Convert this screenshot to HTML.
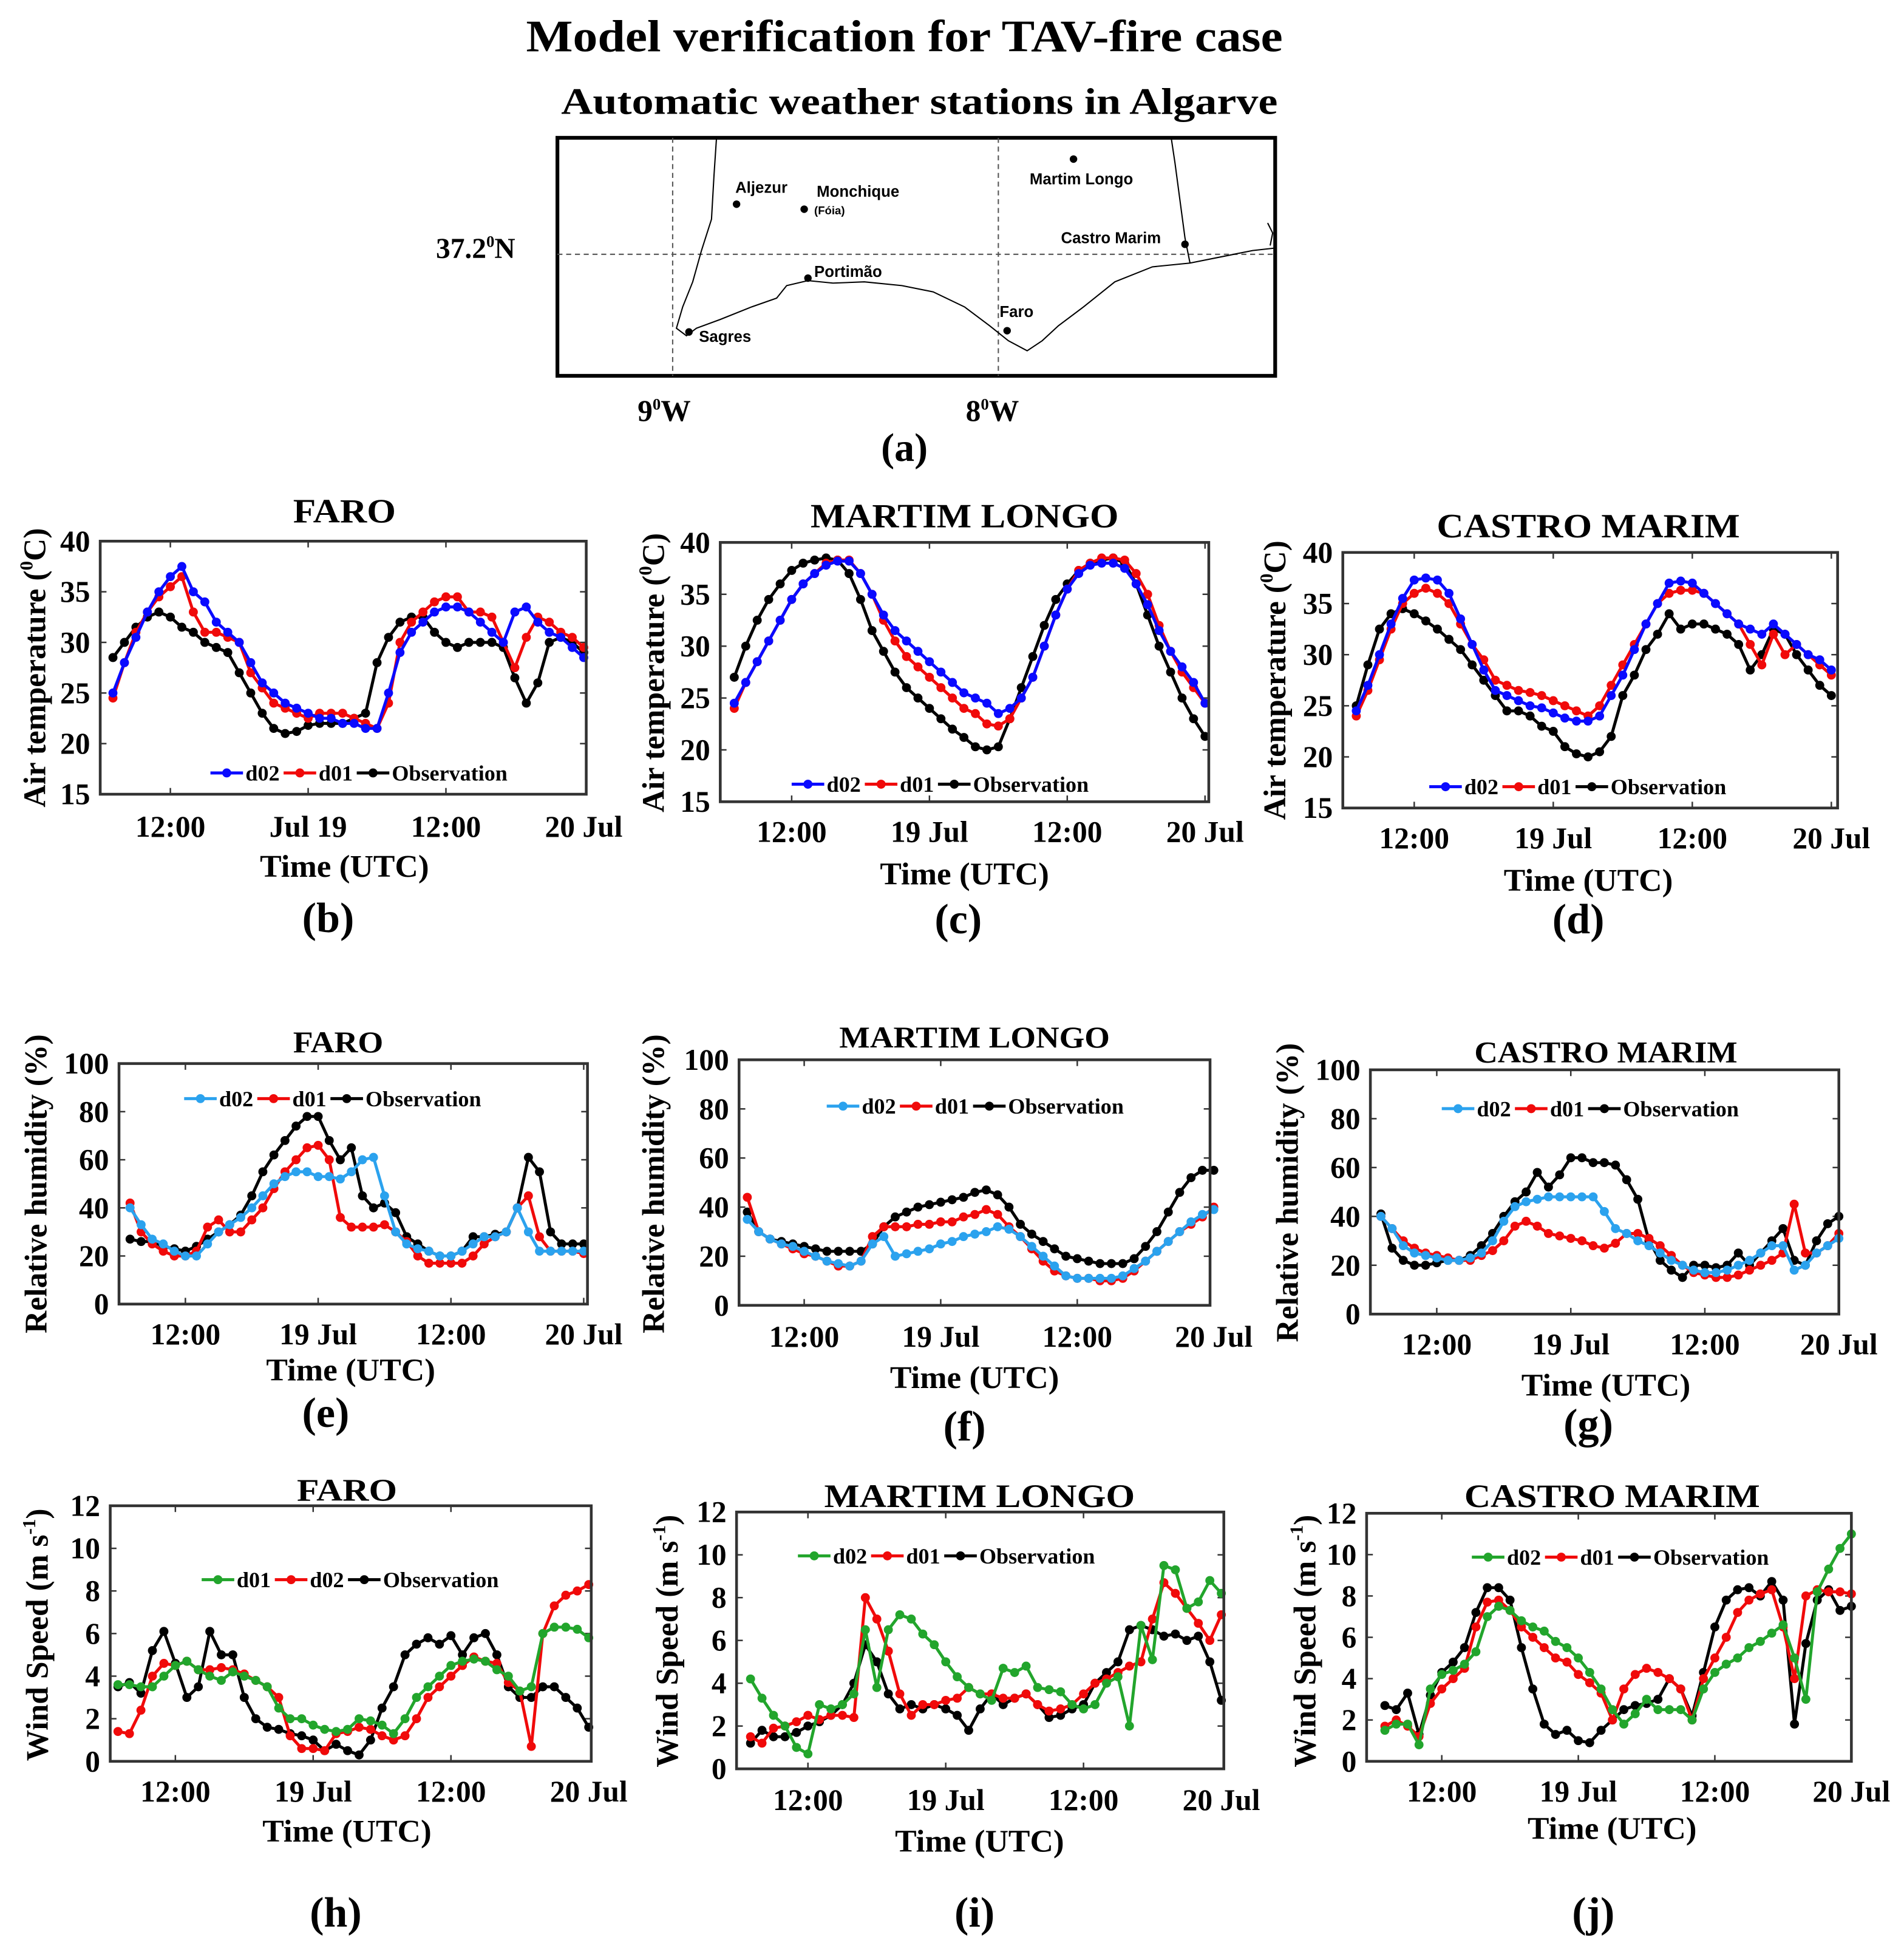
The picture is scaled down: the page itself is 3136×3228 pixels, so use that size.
<!DOCTYPE html>
<html><head><meta charset="utf-8"><style>
html,body{margin:0;padding:0;background:#fff;}
svg{display:block;}
text{font-family:"Liberation Serif",serif;font-weight:bold;fill:#000;}
.sans{font-family:"Liberation Sans",sans-serif;}
</style></head><body>
<svg id="fig" xmlns="http://www.w3.org/2000/svg" width="3136" height="3228" viewBox="0 0 1520 1564.6">
<rect x="0" y="0" width="1520" height="1565" fill="#fff"/>
<text x="420" y="41" font-size="36" textLength="604" lengthAdjust="spacingAndGlyphs">Model verification for TAV-fire case</text>
<text x="448" y="91" font-size="30" textLength="572" lengthAdjust="spacingAndGlyphs">Automatic weather stations in Algarve</text>
<g>
<rect x="445" y="110" width="573" height="190" fill="none" stroke="#000" stroke-width="3"/>
<line x1="537" y1="110" x2="537" y2="300" stroke="#555" stroke-dasharray="4,3" stroke-width="1"/>
<line x1="797" y1="110" x2="797" y2="300" stroke="#555" stroke-dasharray="4,3" stroke-width="1"/>
<line x1="445" y1="203" x2="1018" y2="203" stroke="#555" stroke-dasharray="4,3" stroke-width="1"/>
<path d="M572,110 L570,140 L568,175 L560,200 L553,225 L545,245 L540,262 L548,268 L556,262 L575,255 L600,245 L620,238 L628,228 L645,224 L665,226 L690,225 L720,228 L745,233 L770,245 L790,260 L805,272 L820,280 L832,272 L845,260 L865,245 L890,225 L920,213 L950,210 L975,205 L1000,200 L1018,198" fill="none" stroke="#000" stroke-width="1"/>
<path d="M935,110 L938,130 L942,160 L946,190 L950,210 M1012,178 L1016,186 L1014,196" fill="none" stroke="#000" stroke-width="1"/>
<g class="sans" font-size="12.5">
<circle cx="588" cy="163" r="3"/><text class="sans" x="587" y="154" font-size="12.5">Aljezur</text>
<circle cx="642" cy="167" r="3"/><text class="sans" x="652" y="157" font-size="12.5">Monchique</text><text class="sans" x="650" y="171" font-size="9">(Fóia)</text>
<circle cx="857" cy="127" r="3"/><text class="sans" x="822" y="147" font-size="12.5">Martim Longo</text>
<circle cx="946" cy="195" r="3"/><text class="sans" x="847" y="194" font-size="12.5">Castro Marim</text>
<circle cx="645" cy="222" r="3"/><text class="sans" x="650" y="221" font-size="12.5">Portimão</text>
<circle cx="804" cy="264" r="3"/><text class="sans" x="798" y="253" font-size="12.5">Faro</text>
<circle cx="550" cy="265" r="3"/><text class="sans" x="558" y="273" font-size="12.5">Sagres</text>
</g>
<text x="348" y="206" font-size="23">37.2<tspan font-size="13" dy="-9">0</tspan><tspan dy="9">N</tspan></text>
<text x="509" y="336" font-size="24">9<tspan font-size="13" dy="-9">0</tspan><tspan dy="9">W</tspan></text>
<text x="771" y="336" font-size="24">8<tspan font-size="13" dy="-9">0</tspan><tspan dy="9">W</tspan></text>
</g>
<text x="722" y="368" font-size="32" text-anchor="middle">(a)</text>
<g id="charts"></g>
</svg>
<script>
const hours=[];for(let h=7;h<=48;h++)hours.push(h);
// Temperature
const b_obs=[28.5,30,31.5,32.5,33,32.5,31.5, 31,30,29.5,29,27,25,23, 21.5,21,21.2,21.8,22,22,22, 22.5,23,28,30.5,32,32.5,32.5, 31,30,29.5,30,30,30,29.5, 26.5,24,26,30,30.5,30,29];
const b_d02=[25,28,30.5,33,35,36.5,37.5, 35,34,32,31,30,28,26, 25,24,23.5,23,22.5,22.5,22, 22,21.5,21.5,25,29,31,32, 33,33.5,33.5,33,32,31,30, 33,33.5,32,31,30.5,29.5,28.5];
const b_d01=[24.5,28,31,33,34.5,35.5,36.5, 33,31,31,30.5,30,27,25.5, 24,23.5,23,22.5,23,23,23, 22.5,22,21.5,24,30,32,33, 34,34.5,34.5,33,33,32.5,30, 27.5,30.5,32.5,32,31,30.5,29.5];
const c_obs=[27,30,32.5,34.5,36,37.3,38, 38.3,38.5,38.3,37,34.5,31.5,29.5, 27.5,26,25,24,23,22,21.2, 20.3,20,20.3,23,26,29,32, 34.5,36,37.3,38,38.3,38.5,38, 36,33,30,27.5,25,23,21.3];
const c_d02=[24.5,26.5,28.5,30.5,32.5,34.5,36, 37,37.8,38.2,38.2,37,35,33, 31.5,30.5,29.5,28.5,27.5,26.5,25.5, 25,24.5,23.5,24,25,27,30, 33,35.5,37,37.8,38,38,37.5, 36,34,31.5,29.5,28,26.5,24.5];
const c_d01=[24,26.5,28.5,30.5,32.5,34.5,36, 37,38,38.3,38.3,37,35,32.5, 30.5,29,28,27,26,25,24, 23.5,22.5,22.3,23,25,27,30, 33,35.5,37.3,38,38.5,38.5,38.3, 37,35,32,29.5,27.5,26,24.5];
const d_obs=[25,29,32.5,34,34.5,34,33.3, 32.5,31.5,30.5,29,27.5,26,24.5, 24.5,24,23,22.5,21,20.3,20, 20.5,22,26,28,30.5,32,34, 32.5,33,33,32.5,32,31,28.5, 30,32.5,32,30,28.5,27,26];
const d_d02=[24.5,27,30,33,35.5,37.3,37.5, 37.3,36,33.5,31,28.5,26.5,26, 25.5,25,24.8,24.3,23.8,23.5,23.5, 24,26,28,30.5,33,35,37, 37.2,37,36,35,34,33,32.5, 32,33,32,31,30,29.5,28.5];
const d_d01=[24,26.5,29.5,32.5,35,36,36.5, 36,35,33,31,29.5,27.5,27, 26.5,26.3,26,25.5,25,24.5,24, 25,27,29,31,33,35,36, 36.3,36.3,36,35,34,33,31, 29,32,30,31,30,29,28];
// Relative humidity
const e_obs=[27,26,26,24,23,22,24, 27,30,33,37,45,55,62, 68,74,78,78,68,60,65, 45,40,42,38,28,25,22, 20,20,22,28,28,29,30, 40,61,55,30,25,25,25];
const e_d02=[40,33,27,25,22,20,20, 25,30,33,36,40,45,50, 53,55,55,53,53,52,55, 60,61,45,30,25,23,22, 20,20,22,25,28,28,30, 40,30,22,22,22,22,22];
const e_d01=[42,30,25,22,20,20,22, 32,35,30,30,35,40,48, 55,60,65,66,60,36,32, 32,32,33,30,26,20,17, 17,17,17,20,25,28,30, 40,45,28,22,22,22,21];
const f_obs=[38,30,27,26,25,24,23, 22,22,22,22,25,32,36, 38,40,41,42,43,44,46, 47,45,40,33,29,26,23, 20,19,18,17,17,17,19, 24,30,38,46,52,55,55];
const f_d02=[35,30,27,25,24,22,20, 18,17,16,18,25,28,20, 21,22,23,25,26,28,29, 30,32,31,28,24,20,16, 12,11,11,11,11,12,15, 18,22,26,30,34,37,39];
const f_d01=[44,30,27,25,23,21,20, 18,16,16,18,28,32,32, 32,33,33,34,34,36,37, 39,37,32,28,23,18,14, 12,11,11,10,10,11,14, 18,22,26,30,33,36,40];
const g_obs=[41,27,22,20,20,21,22, 22,24,28,33,40,46,50, 58,52,57,64,64,62,62, 61,55,47,30,22,18,15, 20,20,19,20,25,20,25, 30,35,22,20,30,37,40];
const g_d02=[40,35,28,25,24,23,22, 22,23,25,30,38,44,46, 47,48,48,48,48,48,42, 35,33,30,28,25,22,20, 18,17,17,18,20,22,25, 28,28,18,20,25,28,31];
const g_d01=[40,35,30,27,25,24,23, 22,22,24,26,30,36,38, 36,33,32,31,30,28,27, 29,33,33,31,28,24,20, 17,16,15,15,16,18,20, 22,25,45,25,25,28,33];
// Wind speed
const h_obs=[3.5,3.7,3.2,5.2,6.1,4.6,3, 3.5,6.1,5,5,3,2,1.6, 1.5,1.3,1.2,1,0.5,0.8,0.5, 0.3,1,2.5,3.5,5,5.5,5.8, 5.5,5.9,5,5.8,6,5,3.5, 3,3,3.5,3.5,3,2.5,1.6];
const h_d01=[3.6,3.6,3.5,3.5,4,4.5,4.7, 4.3,4,3.8,4.2,4,3.8,3.5, 2.5,2,2,1.7,1.5,1.4,1.5, 2,1.9,1.7,1.3,2,3,3.5, 4,4.5,4.7,4.8,4.7,4.3,4, 3.3,3.5,6,6.3,6.3,6.2,5.8];
const h_d02=[1.4,1.3,2.4,4,4.6,4.5,4.7, 4.3,4.3,4.4,4.3,4.1,3.8,3.5, 3,1.2,0.6,0.6,0.5,1.3,1.4, 1.6,1.5,1.2,1,1.2,2,3, 3.5,4,4.5,4.9,4.7,4.6,3.7, 3.3,0.7,6,7.3,7.8,8,8.3];
const i_obs=[1.2,1.8,1.5,1.5,1.7,2,2.2, 2.5,3,4,5.8,5,3.5,2.8, 3,2.8,3,2.8,2.5,1.8,2.8, 3.5,3,3.3,3.5,3,2.4,2.5, 2.8,3,4,4.5,5,6.5,6.7, 6.5,6.2,6.3,6,6.2,5,3.2];
const i_d02=[4.2,3.3,2.5,2,1,0.7,3, 2.8,3,3.5,6.5,3.8,6.5,7.2, 7,6.3,5.8,5,4.3,3.8,3.5, 3.2,4.7,4.5,4.8,3.8,3.7,3.6, 3,2.8,3,4,4.3,2,6.7, 5.1,9.5,9.3,7.5,7.8,8.8,8.2];
const i_d01=[1.5,1.2,1.9,2,2.2,2.5,2.3, 2.5,2.5,2.4,8,7,5.5,3.5, 2.5,3,3,3.2,3.3,3.8,3.5, 3.5,3.3,3.3,3.5,3,2.7,2.8, 3,3.5,4,4.2,4.5,4.8,5, 7,8.7,8.2,7.5,6.8,6,7.2];
const j_obs=[2.7,2.5,3.3,1.3,3.2,4.3,4.8, 5.5,7.2,8.4,8.4,7.8,5.5,3.5, 1.8,1.3,1.5,1,0.9,1.5,2, 2.5,2.7,2.8,3,4,3.5,2.2, 4.3,6.5,7.8,8.3,8.4,8,8.7, 7.8,1.8,5.7,7.8,8.3,7.3,7.5];
const j_d02=[1.5,1.8,1.8,0.8,3.5,4.2,4.4, 4.7,5.3,7,7.5,7.3,6.8,6.5, 6.3,5.8,5.5,5,4.3,3.5,2.5, 1.8,2.3,3,2.5,2.5,2.5,2, 3.5,4.3,4.7,5,5.5,5.8,6.2, 6.6,5,3,8.2,9.3,10.3,11];
const j_d01=[1.7,2,1.7,1.2,2.8,3.5,4, 4.5,6.5,7.7,7.8,7.3,6.5,6, 5.5,5,4.8,4.2,3.8,3.3,2, 3.5,4.2,4.5,4.3,4,3.5,2, 4,5,6,7.2,7.8,8.1,8.3, 6.5,4,8,8.3,8.2,8.2,8.1];
const tempTicks=[15,20,25,30,35,40];
const rhTicks=[0,20,40,60,80,100];
const windTicks=[0,2,4,6,8,10,12];
const tickHours=[12,24,36,48];
const xLabelsA=['12:00','Jul 19','12:00','20 Jul'];
const xLabelsB=['12:00','19 Jul','12:00','20 Jul'];

const BLUE='#0a0aff',LBLUE='#2ba2ee',RED='#f00a0a',GREEN='#22a52c',BLACK='#000';
const NS='http://www.w3.org/2000/svg';
const root=document.getElementById('charts');
function mk(tag,attrs,parent){const e=document.createElementNS(NS,tag);for(const k in attrs)e.setAttribute(k,attrs[k]);(parent||root).appendChild(e);return e;}

function chart(c){
  const g=mk('g',{});
  
  
  const ymin=c.ticks[0],ymax=c.ticks[c.ticks.length-1];
  const ppH=(c.x24-c.x12)/12;
  const X=h=>c.x12+(h-12)*ppH;
  const Y=v=>c.y1-(v-ymin)/(ymax-ymin)*(c.y1-c.y0);
  c.ticks.forEach(t=>{
    const y=Y(t);
    const tl=mk('text',{x:c.x0-8,y:y+8,'font-size':24,'text-anchor':'end'},g);tl.textContent=t;
    
    
    mk('line',{x1:c.x0,y1:y,x2:c.x0+5,y2:y,stroke:'#333','stroke-width':1.2},g);
    mk('line',{x1:c.x1,y1:y,x2:c.x1-5,y2:y,stroke:'#333','stroke-width':1.2},g);
  });
  tickHours.forEach((h,i)=>{
    const x=X(h);
    if(x<c.x1-2){
      mk('line',{x1:x,y1:c.y1,x2:x,y2:c.y1-5,stroke:'#333','stroke-width':1.2},g);
      mk('line',{x1:x,y1:c.y0,x2:x,y2:c.y0+5,stroke:'#333','stroke-width':1.2},g);
    }
    const tl=mk('text',{x:x,y:c.xly,'font-size':24,'text-anchor':'middle'},g);tl.textContent=c.xl[i];
    
    
  });
  c.series.forEach(s=>{
    const sg=mk('g',{},g);
    
    
    const pts=s.data.map((v,i)=>X(hours[i])+','+Y(v)).join(' ');
    mk('polyline',{points:pts,fill:'none',stroke:s.color,'stroke-width':2.4,'stroke-linejoin':'round'},sg);
    s.data.forEach((v,i)=>{
      const p=mk('circle',{cx:X(hours[i]),cy:Y(v),r:3.6,fill:s.color},sg);
      
      
    });
  });
  mk('rect',{x:c.x0,y:c.y0,width:c.x1-c.x0,height:c.y1-c.y0,fill:'none',stroke:'#333','stroke-width':2.2},g);
  const lg=mk('g',{},g);
  
  
  let lx=c.lx;
  c.series.slice().reverse().forEach(s=>{
    mk('line',{x1:lx,y1:c.ly,x2:lx+26,y2:c.ly,stroke:s.color,'stroke-width':2.4},lg);
    mk('circle',{cx:lx+13,cy:c.ly,r:3.6,fill:s.color},lg);
    const t=mk('text',{x:lx+28,y:c.ly+6,'font-size':17.5},lg);t.textContent=s.label;
    
    
    lx+=28+(s.label.length*8.8)+4;
  });
  const tt=mk('text',{x:c.tx,y:c.ty,'font-size':c.tfs||27,'text-anchor':'middle',textLength:c.tl,lengthAdjust:'spacingAndGlyphs'},g);tt.textContent=c.title;
  
  
  const xt=mk('text',{x:c.xtx,y:c.xty,'font-size':25,'text-anchor':'middle',textLength:135,lengthAdjust:'spacingAndGlyphs'},g);xt.textContent='Time (UTC)';
  
  
  const yt=mk('text',{x:0,y:0,'font-size':25,'text-anchor':'middle',transform:`translate(${c.ytx},${c.yty}) rotate(-90)`},g);
  
  
  if(c.ylab==='wind'){yt.innerHTML='Wind Speed (m s<tspan font-size="15" dy="-10">-1</tspan><tspan dy="10">)</tspan>';}
  else if(c.ylab==='temp'){yt.innerHTML='Air temperature (<tspan font-size="15" dy="-10">0</tspan><tspan dy="10">C)</tspan>';}
  else yt.textContent='Relative humidity (%)';
  const pl=mk('text',{x:c.px,y:c.py,'font-size':34,'text-anchor':'middle'},g);pl.textContent=c.plabel;
  
  
}
chart({name:'faro-temperature-chart',title:'FARO',tl:82,x0:80,x1:468,y0:432,y1:634,x12:136,x24:246,ticks:tempTicks,xl:xLabelsA,xly:668,
 series:[{label:'Observation',color:BLACK,data:b_obs},{label:'d01',color:RED,data:b_d01},{label:'d02',color:BLUE,data:b_d02}],
 lx:168,ly:617,tx:275,ty:417,xtx:275,xty:700,ytx:36,yty:533,ylab:'temp',plabel:'(b)',px:262,py:744});
chart({name:'martim-longo-temperature-chart',title:'MARTIM LONGO',tl:246,x0:575,x1:965,y0:433,y1:640,x12:632,x24:742,ticks:tempTicks,xl:xLabelsB,xly:672,
 series:[{label:'Observation',color:BLACK,data:c_obs},{label:'d01',color:RED,data:c_d01},{label:'d02',color:BLUE,data:c_d02}],
 lx:632,ly:626,tx:770,ty:421,xtx:770,xty:706,ytx:530,yty:537,ylab:'temp',plabel:'(c)',px:765,py:745});
chart({name:'castro-marim-temperature-chart',title:'CASTRO MARIM',tl:242,x0:1072,x1:1467,y0:441,y1:645,x12:1129,x24:1240,ticks:tempTicks,xl:xLabelsB,xly:677,
 series:[{label:'Observation',color:BLACK,data:d_obs},{label:'d01',color:RED,data:d_d01},{label:'d02',color:BLUE,data:d_d02}],
 lx:1141,ly:628,tx:1268,ty:429,xtx:1268,xty:711,ytx:1026,yty:543,ylab:'temp',plabel:'(d)',px:1260,py:745});
chart({name:'faro-humidity-chart',title:'FARO',tl:72,tfs:24,x0:95,x1:469,y0:849,y1:1041,x12:148,x24:254,ticks:rhTicks,xl:xLabelsB,xly:1073,
 series:[{label:'Observation',color:BLACK,data:e_obs},{label:'d01',color:RED,data:e_d01},{label:'d02',color:LBLUE,data:e_d02}],
 lx:147,ly:877,tx:270,ty:840,xtx:280,xty:1102,ytx:37,yty:945,ylab:'rh',plabel:'(e)',px:260,py:1139});
chart({name:'martim-longo-humidity-chart',title:'MARTIM LONGO',tl:216,tfs:24,x0:590,x1:966,y0:846,y1:1042,x12:642,x24:751,ticks:rhTicks,xl:xLabelsB,xly:1075,
 series:[{label:'Observation',color:BLACK,data:f_obs},{label:'d01',color:RED,data:f_d01},{label:'d02',color:LBLUE,data:f_d02}],
 lx:660,ly:883,tx:778,ty:836,xtx:778,xty:1108,ytx:530,yty:945,ylab:'rh',plabel:'(f)',px:770,py:1150});
chart({name:'castro-marim-humidity-chart',title:'CASTRO MARIM',tl:210,tfs:24,x0:1094,x1:1468,y0:854,y1:1049,x12:1147,x24:1254,ticks:rhTicks,xl:xLabelsB,xly:1081,
 series:[{label:'Observation',color:BLACK,data:g_obs},{label:'d01',color:RED,data:g_d01},{label:'d02',color:LBLUE,data:g_d02}],
 lx:1151,ly:885,tx:1282,ty:848,xtx:1282,xty:1114,ytx:1036,yty:952,ylab:'rh',plabel:'(g)',px:1268,py:1148});
chart({name:'faro-wind-chart',title:'FARO',tl:80,tfs:25,x0:88,x1:472,y0:1202,y1:1406,x12:140,x24:250,ticks:windTicks,xl:xLabelsB,xly:1438,
 series:[{label:'Observation',color:BLACK,data:h_obs},{label:'d02',color:RED,data:h_d02},{label:'d01',color:GREEN,data:h_d01}],
 lx:161,ly:1261,tx:277,ty:1198,xtx:277,xty:1470,ytx:38,yty:1305,ylab:'wind',plabel:'(h)',px:268,py:1538});
chart({name:'martim-longo-wind-chart',title:'MARTIM LONGO',tl:248,tfs:26,x0:588,x1:977,y0:1207,y1:1412,x12:645,x24:755,ticks:windTicks,xl:xLabelsB,xly:1445,
 series:[{label:'Observation',color:BLACK,data:i_obs},{label:'d01',color:RED,data:i_d01},{label:'d02',color:GREEN,data:i_d02}],
 lx:637,ly:1242,tx:782,ty:1203,xtx:782,xty:1478,ytx:541,yty:1310,ylab:'wind',plabel:'(i)',px:778,py:1538});
chart({name:'castro-marim-wind-chart',title:'CASTRO MARIM',tl:236,tfs:26,x0:1091,x1:1478,y0:1208,y1:1406,x12:1151,x24:1260,ticks:windTicks,xl:xLabelsB,xly:1438,
 series:[{label:'Observation',color:BLACK,data:j_obs},{label:'d01',color:RED,data:j_d01},{label:'d02',color:GREEN,data:j_d02}],
 lx:1175,ly:1243,tx:1287,ty:1203,xtx:1287,xty:1468,ytx:1050,yty:1310,ylab:'wind',plabel:'(j)',px:1272,py:1538});
</script>
</body></html>
